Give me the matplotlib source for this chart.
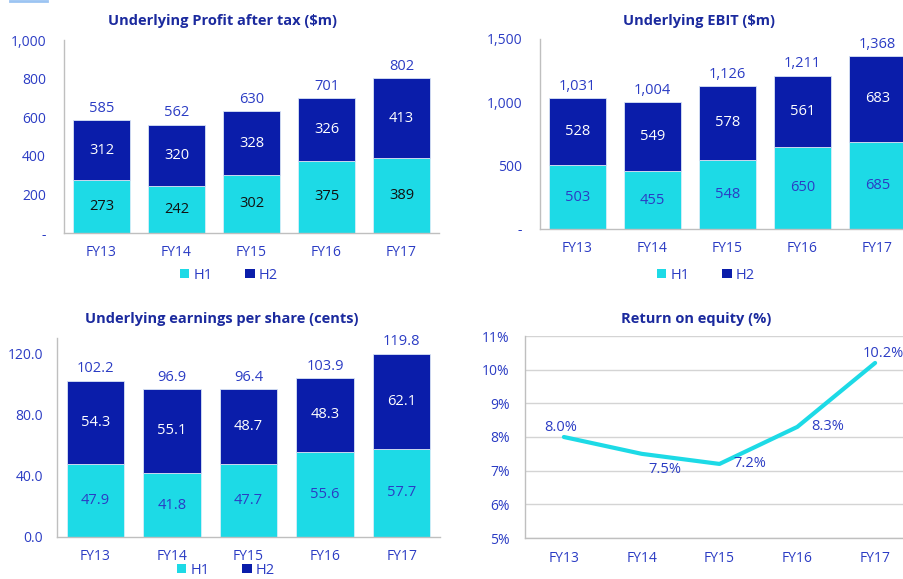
import matplotlib
matplotlib.use("Agg")
import matplotlib.pyplot as plt
from matplotlib.patches import Patch
from matplotlib.lines import Line2D
import numpy as np

plt.rcParams['font.family'] = ['Open Sans', 'DejaVu Sans']

years = ["FY13", "FY14", "FY15", "FY16", "FY17"]

npat_h1 = [273, 242, 302, 375, 389]
npat_h2 = [312, 320, 328, 326, 413]
npat_tot = [585, 562, 630, 701, 802]
npat_ticks = [0, 200, 400, 600, 800, 1000]
npat_ticklabels = ["-", "200", "400", "600", "800", "1,000"]

ebit_h1 = [503, 455, 548, 650, 685]
ebit_h2 = [528, 549, 578, 561, 683]
ebit_tot = [1031, 1004, 1126, 1211, 1368]
ebit_ticks = [0, 500, 1000, 1500]
ebit_ticklabels = ["-", "500", "1,000", "1,500"]

eps_h1 = [47.9, 41.8, 47.7, 55.6, 57.7]
eps_h2 = [54.3, 55.1, 48.7, 48.3, 62.1]
eps_tot = [102.2, 96.9, 96.4, 103.9, 119.8]
eps_ticks = [0, 40, 80, 120]
eps_ticklabels = ["0.0", "40.0", "80.0", "120.0"]

roe = [8.0, 7.5, 7.2, 8.3, 10.2]
roe_ticks = [5, 6, 7, 8, 9, 10, 11]

CYAN = "#1DDAE6"
NAVY = "#0A1DAA"
TXT = "#2B3CC4"
TITLE = "#1B2A9E"
SPINE = "#BFBFBF"

W, H = 904, 579
fig = plt.figure(figsize=(W/100, H/100), dpi=100)

def rect(l, r, t, b):
    return [l/W, 1 - b/H, (r-l)/W, (b-t)/H]

def style(ax, ticks, labels, ylim, ypad):
    for s in ['top', 'right']:
        ax.spines[s].set_visible(False)
    for s in ['left', 'bottom']:
        ax.spines[s].set_color(SPINE)
        ax.spines[s].set_linewidth(1.0)
    ax.set_xlim(-0.5, 4.5)
    ax.set_ylim(*ylim)
    ax.set_yticks(ticks)
    ax.set_yticklabels(labels)
    ax.set_xticks(range(len(years)))
    ax.set_xticklabels(years)
    ax.tick_params(axis='both', length=0, labelsize=10, labelcolor=TXT)
    ax.tick_params(axis='x', pad=9)
    ax.tick_params(axis='y', pad=ypad)

def bars(ax, h1, h2, tot, h1col, fmt):
    x = np.arange(len(years))
    ax.bar(x, h1, width=0.75, color=CYAN, edgecolor="#D8EEF8", linewidth=0.6, zorder=2)
    ax.bar(x, h2, width=0.75, bottom=h1, color=NAVY, edgecolor="#D8E4F5", linewidth=0.6, zorder=2)
    for i in range(len(x)):
        ax.text(x[i], h1[i]/2, fmt(h1[i]), ha='center', va='center', color=h1col, fontsize=10.5, zorder=3)
        ax.text(x[i], h1[i] + h2[i]/2, fmt(h2[i]), ha='center', va='center', color='white', fontsize=10.5, zorder=3)
        ax.annotate(fmt(tot[i]), (x[i], tot[i]), xytext=(0, 3), textcoords='offset points',
                    ha='center', va='bottom', color=TXT, fontsize=10.5, annotation_clip=False)

def legend(ax, xc, yc):
    handles = [Patch(facecolor=CYAN, edgecolor='none'), Patch(facecolor=NAVY, edgecolor='none')]
    leg = ax.legend(handles, ["H1", "H2"], loc='center', bbox_to_anchor=(xc/W, 1 - yc/H),
                    bbox_transform=fig.transFigure, ncol=2, frameon=False,
                    handlelength=0.65, handleheight=0.65, handletextpad=0.3,
                    columnspacing=2.2, fontsize=10.5, borderpad=0)
    for t in leg.get_texts():
        t.set_color(TXT)

# Chart 1
ax1 = fig.add_axes(rect(64, 439, 40, 233))
style(ax1, npat_ticks, npat_ticklabels, (0, 1000), 13)
bars(ax1, npat_h1, npat_h2, npat_tot, "#111111", lambda v: f"{v:,}")
legend(ax1, 229, 275)
fig.text(223/W, 1 - 21/H, "Underlying Profit after tax ($m)", ha='center', va='center',
         fontsize=10.5, fontweight='bold', color=TITLE)

# Chart 2
ax2 = fig.add_axes(rect(540, 915, 39, 229))
style(ax2, ebit_ticks, ebit_ticklabels, (0, 1500), 13)
bars(ax2, ebit_h1, ebit_h2, ebit_tot, TXT, lambda v: f"{v:,}")
legend(ax2, 706, 275)
fig.text(699/W, 1 - 21/H, "Underlying EBIT ($m)", ha='center', va='center',
         fontsize=10.5, fontweight='bold', color=TITLE)

# Chart 3
ax3 = fig.add_axes(rect(57, 440, 338, 537))
style(ax3, eps_ticks, eps_ticklabels, (0, 130), 10)
bars(ax3, eps_h1, eps_h2, eps_tot, TXT, lambda v: f"{v:.1f}")
legend(ax3, 226, 570)
fig.text(222/W, 1 - 319/H, "Underlying earnings per share (cents)", ha='center', va='center',
         fontsize=10.5, fontweight='bold', color=TITLE)

# Chart 4
ax4 = fig.add_axes(rect(525, 914, 336, 538))
style(ax4, roe_ticks, [f"{t}%" for t in roe_ticks], (5, 11), 11)
ax4.grid(axis='y', color="#D4D4D4", linewidth=1.0, zorder=0)
ax4.set_axisbelow(True)
x = np.arange(len(years))
ax4.plot(x, roe, color=CYAN, linewidth=3.0, solid_capstyle='round', zorder=3)
offsets = [(-2, 7), (17, -11), (22, 0), (22, 0), (6, 7)]
for i, v in enumerate(roe):
    ax4.annotate(f"{v:.1f}%", (x[i], v), xytext=offsets[i], textcoords='offset points',
                 ha='center', va='center', color=TXT, fontsize=10.5, annotation_clip=False)
fig.text(696/W, 1 - 319/H, "Return on equity (%)", ha='center', va='center',
         fontsize=10.5, fontweight='bold', color=TITLE)

# small decorative line at top-left
fig.add_artist(Line2D([10/W, 47/W], [1 - 1/H, 1 - 1/H], color="#9CC4F2", linewidth=2,
                      transform=fig.transFigure))

fig.savefig("out.png", dpi=100)
